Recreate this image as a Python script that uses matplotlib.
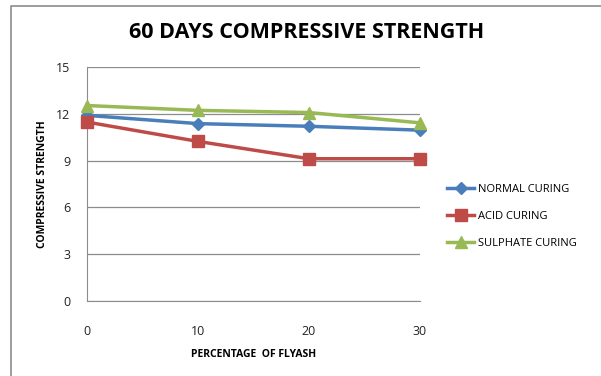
import matplotlib
matplotlib.use("Agg")
import matplotlib.pyplot as plt
from matplotlib.lines import Line2D

flyash = [0, 10, 20, 30]
normal_curing = [11.9, 11.37, 11.2, 10.95]
acid_curing = [11.47, 10.23, 9.12, 9.12]
sulphate_curing = [12.53, 12.22, 12.08, 11.42]
y_ticks = [0, 3, 6, 9, 12, 15]

plt.rcParams['font.family'] = ['Open Sans', 'DejaVu Sans']

fig = plt.figure(figsize=(6.01, 3.76), dpi=100)
# chart border: only the left and top edges fall inside the crop
fig.lines.append(Line2D([11 / 601, 11 / 601, 1], [0, 1 - 6 / 376, 1 - 6 / 376],
                        transform=fig.transFigure, color="#8c8c8c", linewidth=1.2))

ax = fig.add_axes([87 / 601, 1 - 301 / 376, 333 / 601, 234 / 376])

ax.plot(flyash, normal_curing, color="#4a7ebb", linewidth=2.5, marker="D",
        markersize=6, label="NORMAL CURING", clip_on=False, zorder=3)
ax.plot(flyash, acid_curing, color="#be4b48", linewidth=2.5, marker="s",
        markersize=8, label="ACID CURING", clip_on=False, zorder=3)
ax.plot(flyash, sulphate_curing, color="#98b954", linewidth=2.5, marker="^",
        markersize=8, label="SULPHATE CURING", clip_on=False, zorder=3)

ax.set_xlim(0, 30)
ax.set_ylim(0, 15)
ax.set_yticks(y_ticks)
ax.set_xticks(flyash)
ax.grid(axis="y", color="#8c8c8c", linewidth=0.9)
ax.set_axisbelow(True)
for side in ["top", "right"]:
    ax.spines[side].set_visible(False)
for side in ["left", "bottom"]:
    ax.spines[side].set_color("#8c8c8c")
ax.tick_params(axis="both", length=0, labelsize=9, labelcolor="#222222")
ax.tick_params(axis="x", pad=17)
ax.tick_params(axis="y", pad=12)

ax.set_xlabel("PERCENTAGE  OF FLYASH", fontsize=7.5, fontweight="bold", labelpad=8)
ax.set_ylabel("COMPRESSIVE STRENGTH", fontsize=7.5, fontweight="bold", labelpad=6)
fig.text(307 / 601, 1 - 33 / 376, "60 DAYS COMPRESSIVE STRENGTH", fontsize=15.5,
         fontweight="bold", ha="center", va="center")

ax.legend(loc="center left", bbox_to_anchor=(1.05, 0.36), frameon=False,
          fontsize=8, handlelength=2.5, labelspacing=1.45, handletextpad=0.3)

fig.savefig("out.png", dpi=100)
